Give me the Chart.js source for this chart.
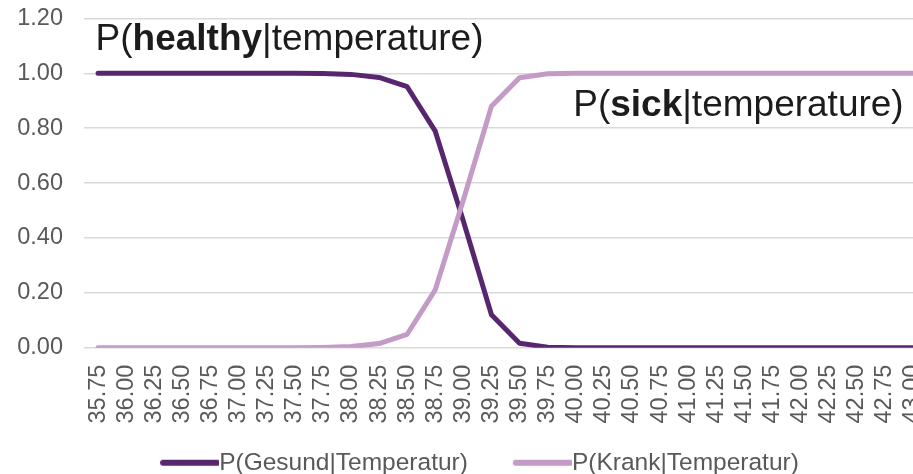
<!DOCTYPE html>
<html>
<head>
<meta charset="utf-8">
<script src="https://cdn.jsdelivr.net/npm/chart.js@4.4.1/dist/chart.umd.min.js"></script>
<style>
  html, body { margin: 0; padding: 0; background: #fff; overflow: hidden; }
  #wrap { width: 941px; height: 485px; }
</style>
</head>
<body>
<div id="wrap"><canvas id="chart" width="941" height="485"></canvas></div>
<script>
// DATA

const temperatures = ['35.75', '36.00', '36.25', '36.50', '36.75', '37.00', '37.25', '37.50', '37.75', '38.00',
    '38.25', '38.50', '38.75', '39.00', '39.25', '39.50', '39.75', '40.00', '40.25', '40.50',
    '40.75', '41.00', '41.25', '41.50', '41.75', '42.00', '42.25', '42.50', '42.75', '43.00'];

const pHealthy = [1.000, 1.000, 1.000, 1.000, 1.000, 1.000, 1.000, 1.000, 0.999, 0.996,
    0.985, 0.951, 0.789, 0.462, 0.120, 0.016, 0.002, 0.000, 0.000, 0.000,
    0.000, 0.000, 0.000, 0.000, 0.000, 0.000, 0.000, 0.000, 0.000, 0.000];

const pSick = [0.000, 0.000, 0.000, 0.000, 0.000, 0.000, 0.000, 0.000, 0.001, 0.004,
    0.015, 0.049, 0.211, 0.538, 0.880, 0.984, 0.998, 1.000, 1.000, 1.000,
    1.000, 1.000, 1.000, 1.000, 1.000, 1.000, 1.000, 1.000, 1.000, 1.000];

const yTicks = [0, 0.2, 0.4, 0.6, 0.8, 1.0, 1.2];

const seriesNames = ['P(Gesund|Temperatur)', 'P(Krank|Temperatur)'];

// STYLE

const darkPurple = '#58266f';
const lightPurple = '#c49ac7';
const tickGrey = '#595959';
const fontFamily = "'Liberation Sans', Arial, sans-serif";

// legend swatch: a line drawn at the right end of a small canvas so it touches the text
function makeSwatch(color) {
    const c = document.createElement('canvas');
    c.width = 89;
    c.height = 14;
    const g = c.getContext('2d');
    g.strokeStyle = color;
    g.lineWidth = 6;
    g.lineCap = 'round';
    g.beginPath();
    g.moveTo(89 - 56, 7);
    g.lineTo(89 - 2, 7);
    g.stroke();
    return c;
}
const swatches = [makeSwatch(darkPurple), makeSwatch(lightPurple)];

// big labels inside the plot, mixed regular / bold
const notesPlugin = {
    id: 'notes',
    afterDatasetsDraw(chart) {
        const ctx = chart.ctx;
        const x = chart.scales.x;
        const y = chart.scales.y;
        const notes = [
            { at: '35.75', value: 1.085, parts: ['P(', 'healthy', '|temperature)'] },
            { at: '40.00', value: 0.845, parts: ['P(', 'sick', '|temperature)'] }
        ];
        ctx.save();
        ctx.fillStyle = '#1c1c1c';
        ctx.textBaseline = 'alphabetic';
        ctx.textAlign = 'left';
        for (const n of notes) {
            let px = x.getPixelForValue(temperatures.indexOf(n.at)) - 2.5;
            const py = y.getPixelForValue(n.value);
            n.parts.forEach((p, i) => {
                ctx.font = (i === 1 ? 'bold ' : '') + '37px ' + fontFamily;
                ctx.fillText(p, px, py);
                px += ctx.measureText(p).width;
            });
        }
        ctx.restore();
    }
};

const ctx = document.getElementById('chart').getContext('2d');
const chart = new Chart(ctx, {
    type: 'line',
    data: {
        labels: temperatures,
        datasets: [{
            label: seriesNames[0],
            data: pHealthy,
            borderColor: darkPurple,
            backgroundColor: darkPurple,
            borderWidth: 5,
            pointRadius: 0,
            tension: 0,
            borderCapStyle: 'round',
            borderJoinStyle: 'round',
            order: 1
        }, {
            label: seriesNames[1],
            data: pSick,
            borderColor: lightPurple,
            backgroundColor: lightPurple,
            borderWidth: 5,
            pointRadius: 0,
            tension: 0,
            borderCapStyle: 'round',
            borderJoinStyle: 'round',
            order: 0  // drawn on top
        }]
    },
    options: {
        responsive: false,
        animation: false,
        devicePixelRatio: 1,
        layout: { padding: { top: 18.4, left: 0, right: 0, bottom: 0 } },
        plugins: {
            tooltip: { enabled: false },
            legend: {
                position: 'bottom',
                labels: {
                    usePointStyle: true,
                    pointStyleWidth: 64.75,
                    padding: 27,
                    color: tickGrey,
                    font: { family: fontFamily, size: 24.5 },
                    sort: (a, b) => a.datasetIndex - b.datasetIndex,
                    generateLabels(chart) {
                        const items = Chart.defaults.plugins.legend.labels.generateLabels(chart);
                        items.forEach(it => { it.pointStyle = swatches[it.datasetIndex]; });
                        return items;
                    }
                }
            }
        },
        scales: {
            x: {
                offset: true,
                grid: { display: false, drawTicks: false },
                border: { display: false },
                ticks: {
                    autoSkip: false,
                    maxRotation: 90,
                    minRotation: 90,
                    padding: 17,
                    color: tickGrey,
                    font: { family: fontFamily, size: 23.5 }
                },
                afterFit(scale) {
                    scale.height = 75.8;
                    scale.paddingLeft = 0;
                    scale.paddingRight = 0;
                }
            },
            y: {
                min: 0,
                max: 1.2,
                afterBuildTicks(scale) { scale.ticks = yTicks.map(v => ({ value: v })); },
                grid: { color: '#d9d9d9', lineWidth: 1.5, drawTicks: false },
                border: { display: false },
                ticks: {
                    padding: 21,
                    color: tickGrey,
                    font: { family: fontFamily, size: 23.5 },
                    callback: v => v.toFixed(2)
                },
                afterFit(scale) {
                    scale.width = 84;
                    scale.paddingTop = 0;
                    scale.paddingBottom = 0;
                }
            },
            // empty right box, keeps the plot running off the page edge like the original
            spacer: {
                type: 'linear',
                position: 'right',
                display: true,
                grid: { display: false, drawTicks: false },
                border: { display: false },
                ticks: { display: false },
                afterFit(scale) { scale.width = 14; }
            }
        }
    },
    plugins: [notesPlugin]
});
</script>
</body>
</html>
